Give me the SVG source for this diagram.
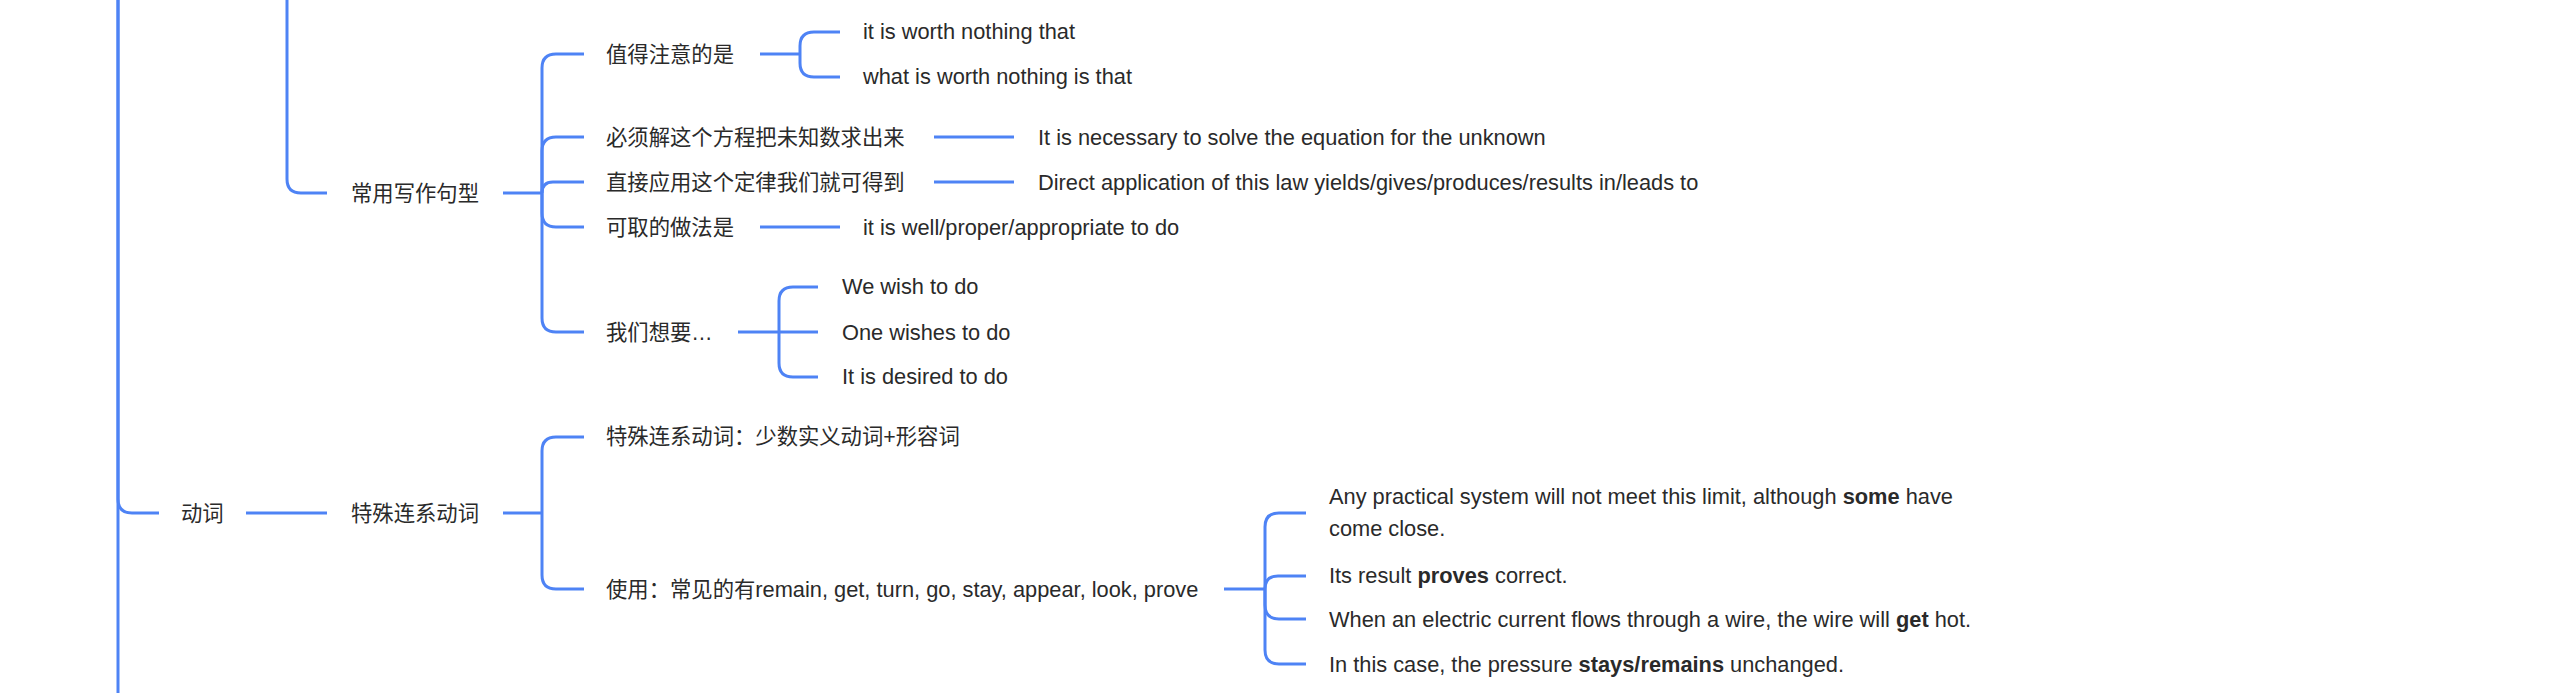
<svg xmlns="http://www.w3.org/2000/svg" width="2559" height="693" viewBox="0 0 2559 693">
<style>
.c{fill:none;stroke:#4E83F5;stroke-width:3;stroke-linecap:butt;stroke-linejoin:round}
text{font-family:"Liberation Sans","Noto Sans CJK SC",sans-serif;font-size:21.33px;fill:#2a2a2a}
.e{font-size:21.8px}
.b{font-weight:bold}
</style>
<rect width="2559" height="693" fill="#ffffff"/>
<g id="connectors">
<path class="c" d="M118,0 V693"/>
<path class="c" d="M118,0 V499 Q118,513 132,513 H159"/>
<path class="c" d="M287,0 V179 Q287,193 301,193 H327"/>
<path class="c" d="M503,193 H542"/>
<path class="c" d="M542,193 V68 Q542,54 556,54 H584"/>
<path class="c" d="M542,193 V151 Q542,137 556,137 H584"/>
<path class="c" d="M542,193 Q542,182 553,182 H584"/>
<path class="c" d="M542,193 V213 Q542,227 556,227 H584"/>
<path class="c" d="M542,193 V318 Q542,332 556,332 H584"/>
<path class="c" d="M760,54 H800"/>
<path class="c" d="M800,54 V46 Q800,32 814,32 H840"/>
<path class="c" d="M800,54 V63 Q800,77 814,77 H840"/>
<path class="c" d="M934,137 H1014"/>
<path class="c" d="M934,182 H1014"/>
<path class="c" d="M760,227 H840"/>
<path class="c" d="M738,332 H779"/>
<path class="c" d="M779,332 V301 Q779,287 793,287 H818"/>
<path class="c" d="M779,332 H818"/>
<path class="c" d="M779,332 V363 Q779,377 793,377 H818"/>
<path class="c" d="M246,513 H327"/>
<path class="c" d="M503,513 H542"/>
<path class="c" d="M542,513 V451 Q542,437 556,437 H584"/>
<path class="c" d="M542,513 V575 Q542,589 556,589 H584"/>
<path class="c" d="M1224,589 H1265"/>
<path class="c" d="M1265,589 V527 Q1265,513 1279,513 H1306"/>
<path class="c" d="M1265,589 Q1265,576 1278,576 H1306"/>
<path class="c" d="M1265,589 V605 Q1265,619 1279,619 H1306"/>
<path class="c" d="M1265,589 V650 Q1265,664 1279,664 H1306"/>
</g>
<g id="n-xiezuo"><text x="351" y="200.5">常用写作句型</text></g>
<g id="n-zhide"><text x="606" y="61.5">值得注意的是</text></g>
<g id="n-worth1"><text class="e" x="863" y="39">it is worth nothing that</text></g>
<g id="n-worth2"><text class="e" x="863" y="84">what is worth nothing is that</text></g>
<g id="n-bixu"><text x="606" y="144.5">必须解这个方程把未知数求出来</text></g>
<g id="n-necessary"><text class="e" x="1038" y="144.5">It is necessary to solve the equation for the unknown</text></g>
<g id="n-zhijie"><text x="606" y="189.5">直接应用这个定律我们就可得到</text></g>
<g id="n-direct"><text class="e" x="1038" y="189.5">Direct application of this law yields/gives/produces/results in/leads to</text></g>
<g id="n-kequ"><text x="606" y="234.5">可取的做法是</text></g>
<g id="n-well"><text class="e" x="863" y="234.5">it is well/proper/appropriate to do</text></g>
<g id="n-women"><text x="606" y="339.5">我们想要…</text></g>
<g id="n-wish1"><text class="e" x="842" y="294">We wish to do</text></g>
<g id="n-wish2"><text class="e" x="842" y="339.5">One wishes to do</text></g>
<g id="n-wish3"><text class="e" x="842" y="384">It is desired to do</text></g>
<g id="n-dongci"><text x="181" y="520.5">动词</text></g>
<g id="n-teshu"><text x="351" y="520.5">特殊连系动词</text></g>
<g id="n-teshu-def"><text x="606" y="443.5">特殊连系动词：少数实义动词+形容词</text></g>
<g id="n-shiyong"><text x="606" y="596.5">使用：常见的有<tspan class="e">remain, get, turn, go, stay, appear, look, prove</tspan></text></g>
<g id="n-ex1"><text class="e" x="1329" y="503.5">Any practical system will not meet this limit, although <tspan class="b">some</tspan> have</text><text class="e" x="1329" y="535.5">come close.</text></g>
<g id="n-ex2"><text class="e" x="1329" y="582.5">Its result <tspan class="b">proves</tspan> correct.</text></g>
<g id="n-ex3"><text class="e" x="1329" y="626.5">When an electric current flows through a wire, the wire will <tspan class="b">get</tspan> hot.</text></g>
<g id="n-ex4"><text class="e" x="1329" y="671.5">In this case, the pressure <tspan class="b">stays/remains</tspan> unchanged.</text></g>
</svg>
